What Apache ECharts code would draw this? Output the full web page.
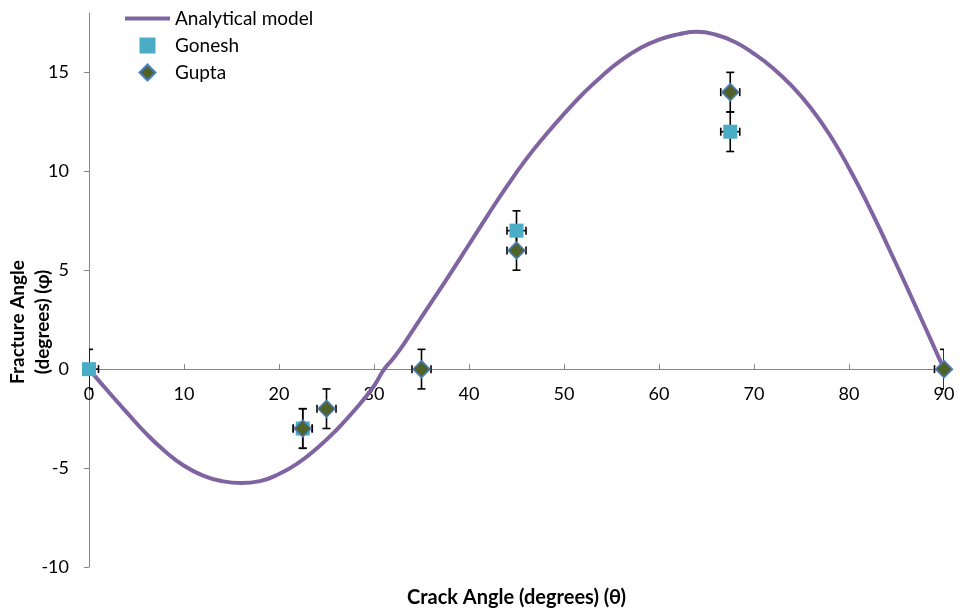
<!DOCTYPE html>
<html><head><meta charset="utf-8">
<script src="https://cdn.jsdelivr.net/npm/echarts@6/dist/echarts.min.js"></script>
<style>html,body{margin:0;padding:0;background:#fff}#c{width:964px;height:612px}</style>
</head><body><div id="c"></div>
<script>
// Analytical model curve
const modelX = [0, 2, 4, 6, 8, 10, 12, 14, 16, 18, 20, 22, 24, 26, 28, 30, 31, 32, 33, 34, 36, 38, 40, 42, 44, 46, 48, 50, 52, 54, 56, 58, 60, 62, 64, 66, 68, 70, 72, 74, 76, 78, 80, 82, 84, 86, 88, 90];
const modelY = [0, -1.12, -2.2, -3.25, -4.15, -4.88, -5.38, -5.66, -5.76, -5.66, -5.3, -4.75, -4.0, -3.1, -2.05, -0.85, -0.05, 0.52, 1.17, 1.9, 3.35, 4.8, 6.3, 7.8, 9.25, 10.6, 11.8, 12.9, 13.92, 14.82, 15.6, 16.22, 16.66, 16.92, 17.05, 16.9, 16.53, 15.94, 15.21, 14.3, 13.19, 11.82, 10.17, 8.32, 6.31, 4.24, 2.13, 0];
// Experimental data
const goneshX = [0, 22.5, 45, 67.5];
const goneshY = [0, -3, 7, 12];
const guptaX = [22.5, 25, 35, 45, 67.5, 90];
const guptaY = [-3, -2, 0, 6, 14, 0];
const errX = 1;
const errY = 1;
// Axes
const xMin = 0, xMax = 90, xStep = 10;
const yMin = -10, yMax = 18, yStep = 5;
const xTicks = [0, 10, 20, 30, 40, 50, 60, 70, 80, 90];
const yTicks = [-10, -5, 0, 5, 10, 15];

const FONT = 'Lato';
const W = 964, H = 612, GL = 89, GR = 20, GT = 13, GB = 45;
const zip = (xs, ys) => xs.map((x, i) => [x, ys[i]]);
// x axis crosses the y axis at 0
const xAxisOffset = -((0 - yMin) / (yMax - yMin)) * (H - GT - GB);

function errRender(params, api) {
  const x = api.value(0), y = api.value(1);
  const t = api.coord([x, y + errY]), b = api.coord([x, y - errY]);
  const l = api.coord([x - errX, y]), r = api.coord([x + errX, y]);
  const cap = 4;
  const st = { stroke: '#000', lineWidth: 1.6 };
  const ln = (x1, y1, x2, y2) => ({ type: 'line', shape: { x1, y1, x2, y2 }, style: st });
  return { type: 'group', children: [
    ln(t[0], t[1], b[0], b[1]),
    ln(t[0] - cap, t[1], t[0] + cap, t[1]),
    ln(b[0] - cap, b[1], b[0] + cap, b[1]),
    ln(l[0], l[1], r[0], r[1]),
    ln(l[0], l[1] - cap, l[0], l[1] + cap),
    ln(r[0], r[1] - cap, r[0], r[1] + cap)
  ]};
}

const chart = echarts.init(document.getElementById('c'), null, { renderer: 'canvas' });
chart.setOption({
  animation: false,
  backgroundColor: '#fff',
  textStyle: { fontFamily: FONT },
  grid: { left: GL, right: GR, top: GT, bottom: GB, containLabel: false },
  legend: {
    orient: 'vertical', left: 120, top: 4,
    itemWidth: 45, itemHeight: 16, itemGap: 8, symbolKeepAspect: true,
    textStyle: { fontFamily: FONT, fontSize: 19, color: '#000', lineHeight: 18 },
    data: [
      { name: 'Analytical model', icon: 'path://M0,0H45V4H0Z' },
      { name: 'Gonesh', icon: 'path://M0,0H10V10H0Z' },
      { name: 'Gupta', icon: 'path://M5,0L10,5L5,10L0,5Z' }
    ]
  },
  xAxis: {
    type: 'value', min: xMin, max: xMax, interval: xStep,
    offset: xAxisOffset,
    axisLine: { onZero: false, lineStyle: { color: '#868686', width: 1 } },
    axisTick: { inside: true, length: 5, lineStyle: { color: '#868686' } },
    axisLabel: { margin: 16, fontSize: 18, color: '#000', fontFamily: FONT, customValues: xTicks },
    splitLine: { show: false }
  },
  yAxis: {
    type: 'value', min: yMin, max: yMax, interval: yStep,
    axisLine: { show: true, onZero: false, lineStyle: { color: '#868686', width: 1 } },
    axisTick: { show: true, length: 5, lineStyle: { color: '#868686' }, customValues: yTicks },
    axisLabel: { margin: 20, fontSize: 18, color: '#000', fontFamily: FONT, customValues: yTicks },
    splitLine: { show: false }
  },
  graphic: [
    { type: 'text', x: (GL + W - GR) / 2, y: 598, z: 10,
      style: { text: 'Crack Angle (degrees) (θ)', font: 'bold 20px ' + FONT, fill: '#000',
        align: 'center', verticalAlign: 'middle' } },
    { type: 'text', x: 30, y: 322, rotation: Math.PI / 2, z: 10,
      style: { text: 'Fracture Angle\n(degrees) (φ)', font: 'bold 19px ' + FONT, fill: '#000',
        align: 'center', verticalAlign: 'middle', lineHeight: 25 } }
  ],
  series: [
    { name: 'Analytical model', type: 'line', data: zip(modelX, modelY), smooth: 0.5,
      symbol: 'none', showSymbol: false, z: 2,
      lineStyle: { color: '#8064A2', width: 4 }, itemStyle: { color: '#8064A2' } },
    { name: 'Gonesh-err', type: 'custom', data: zip(goneshX, goneshY), renderItem: errRender,
      clip: true, z: 3, silent: true },
    { name: 'Gupta-err', type: 'custom', data: zip(guptaX, guptaY), renderItem: errRender,
      clip: true, z: 3, silent: true },
    { name: 'Gonesh', type: 'scatter', data: zip(goneshX, goneshY), symbol: 'rect', symbolSize: 14,
      clip: false, z: 4, itemStyle: { color: '#4BACC6', opacity: 1 } },
    { name: 'Gupta', type: 'scatter', data: zip(guptaX, guptaY), symbol: 'diamond', symbolSize: 17,
      clip: false, z: 5, itemStyle: { color: '#4F6228', borderColor: '#4F81BD', borderWidth: 1.5, opacity: 1 } }
  ]
});
</script></body></html>
